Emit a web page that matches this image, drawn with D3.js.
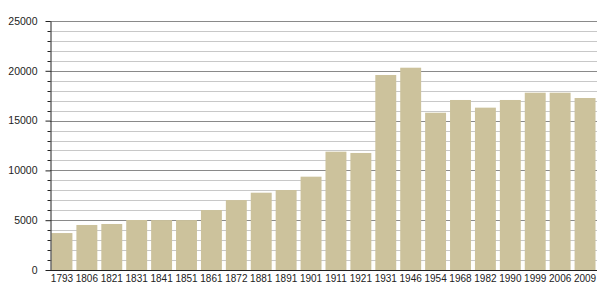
<!DOCTYPE html>
<html>
<head>
<meta charset="utf-8">
<script src="https://cdn.jsdelivr.net/npm/d3@7"></script>
<style>
  html, body { margin: 0; padding: 0; background: #fff; }
  svg { display: block; }
</style>
</head>
<body>
<svg id="chart" width="605" height="300"></svg>
<script>
// population by census year
const years = ['1793','1806','1821','1831','1841','1851','1861','1872','1881','1891','1901',
               '1911','1921','1931','1946','1954','1968','1982','1990','1999','2006','2009'];
const population = [3710, 4520, 4620, 5020, 5010, 5010, 6020, 7020, 7760, 8030, 9370,
                    11880, 11750, 19580, 20310, 15790, 17070, 16300, 17070, 17800, 17800, 17270];
const majorTicks = [0, 5000, 10000, 15000, 20000, 25000];

const W = 605, H = 300;
const M = { left: 50, right: 8, top: 21, bottom: 30 };
const BAR = '#ccc29c', MAJOR = '#8a8a8a', MINOR = '#c8c8c8', INK = '#222';
const FONT = '"Liberation Sans", Arial, sans-serif';

const svg = d3.select('#chart');

const x = d3.scaleBand().domain(years).range([M.left, W - M.right]).paddingInner(0.16).paddingOuter(0.06);
const y = d3.scaleLinear().domain([0, 25000]).range([H - M.bottom, M.top]);

const minor = d3.range(1000, 25001, 1000).filter(v => v % 5000 !== 0);

// grid
svg.append('g').selectAll('line').data(minor).join('line')
  .attr('x1', M.left).attr('x2', W - M.right)
  .attr('y1', d => Math.round(y(d)) + 0.5).attr('y2', d => Math.round(y(d)) + 0.5)
  .attr('stroke', MINOR).attr('stroke-width', 1);
svg.append('g').selectAll('line').data(majorTicks.slice(1)).join('line')
  .attr('x1', M.left).attr('x2', W - M.right)
  .attr('y1', d => Math.round(y(d)) + 0.5).attr('y2', d => Math.round(y(d)) + 0.5)
  .attr('stroke', MAJOR).attr('stroke-width', 1);

// bars
svg.append('g').selectAll('rect').data(years).join('rect')
  .attr('x', d => x(d)).attr('width', x.bandwidth())
  .attr('y', (d, i) => y(population[i])).attr('height', (d, i) => y(0) - y(population[i]))
  .attr('fill', BAR);

// y axis: minor ticks short, major ticks longer
const yAxis = svg.append('g').attr('transform', `translate(${M.left + 0.5},0)`)
  .call(d3.axisLeft(y).tickValues(majorTicks).tickFormat(d3.format('d'))
    .tickSize(5).tickPadding(8).tickSizeOuter(0))
  .call(g => g.select('.domain').attr('stroke', INK))
  .call(g => g.selectAll('.tick line').attr('stroke', INK))
  .call(g => g.selectAll('text').attr('font-family', FONT).attr('font-size', 10.5).attr('fill', INK));
yAxis.selectAll('.minor').data(minor).join('line').attr('class', 'minor')
  .attr('x1', -3).attr('x2', 0)
  .attr('y1', d => Math.round(y(d)) + 0.5).attr('y2', d => Math.round(y(d)) + 0.5)
  .attr('stroke', INK);

// x axis
svg.append('g').attr('transform', `translate(0,${Math.round(y(0)) + 0.5})`)
  .call(d3.axisBottom(x).tickSize(0).tickPadding(4).tickSizeOuter(0))
  .call(g => g.select('.domain').attr('stroke', INK).attr('d', `M${M.left},0H${W - M.right}`))
  .call(g => g.selectAll('text').attr('font-family', FONT).attr('font-size', 10).attr('fill', INK));
</script>
</body>
</html>
